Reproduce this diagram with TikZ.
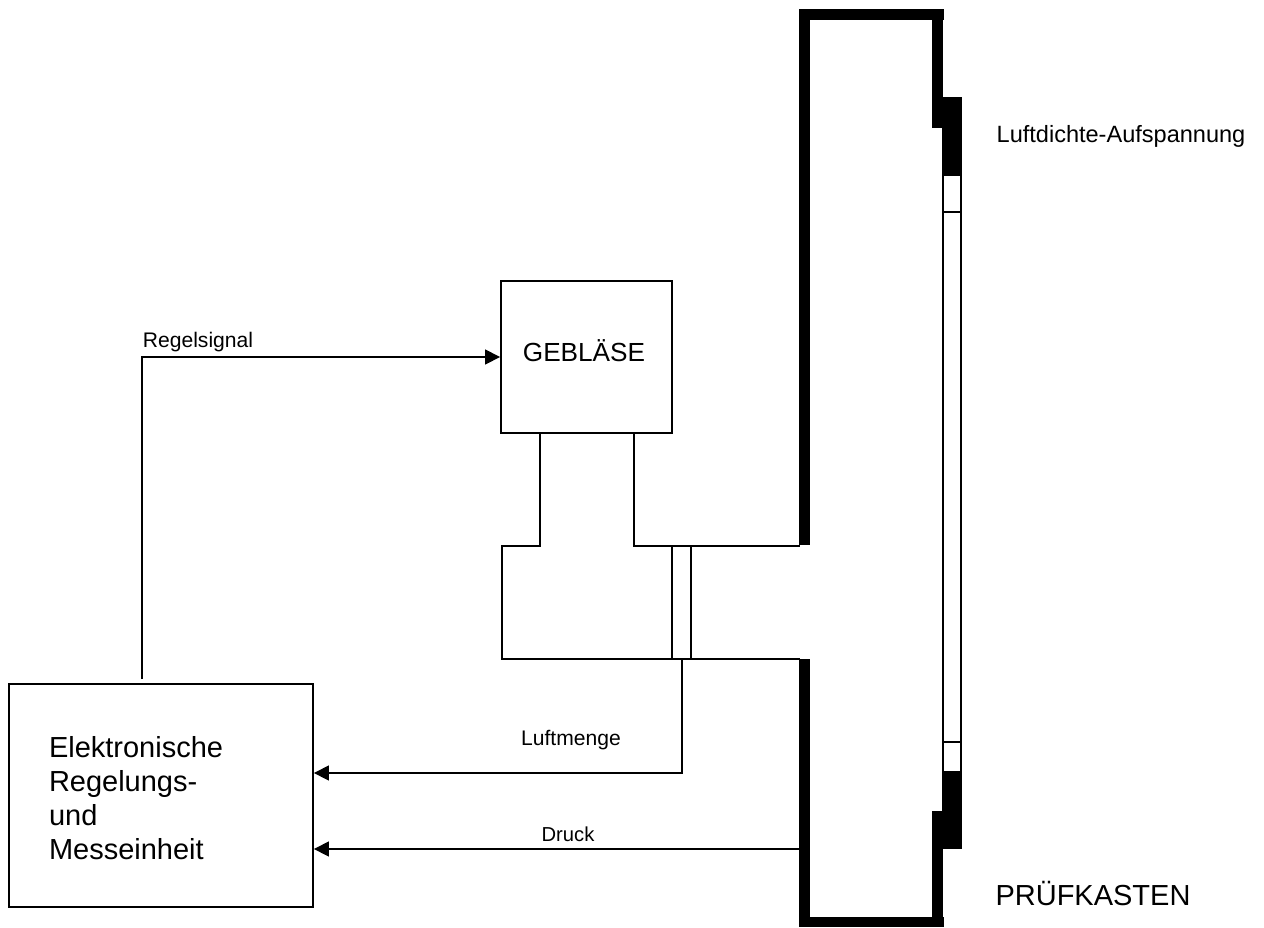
\documentclass[tikz,border=0pt]{standalone}
\usepackage{fontspec}
\setmainfont{Liberation Sans}
\usetikzlibrary{arrows.meta}
\tikzset{
  thinline/.style={line width=1.1pt},
  signal/.style={line width=0.9pt,-{Triangle[length=0.3cm,width=0.3cm]}},
  blockbox/.style={draw,thinline,inner sep=0pt},
  smalllabel/.style={font=\fontsize{12}{14}\selectfont},
  largelabel/.style={font=\fontsize{16.5}{19.4}\selectfont}
}
\begin{document}
\begin{tikzpicture}[x=0.02cm,y=-0.02cm]
    \useasboundingbox (0,0) rectangle (1264,927);

    % Prüfkasten
    \fill (799,9) rectangle (810,545);
    \fill (799,659) rectangle (810,927);
    \fill (799,9) rectangle (944,20);
    \fill (799,917) rectangle (944,927);
    \fill (932,9) rectangle (943,128);
    \fill (932,811) rectangle (943,927);

    % Aufspannung
    \fill (932,97) rectangle (962,128);
    \fill (942,97) rectangle (962,175);
    \fill (942,772) rectangle (962,849);
    \fill (932,811) rectangle (962,849);

    % Fenster
    \draw[thinline] (943,175) rectangle (961,772);
    \draw[thinline] (943,212) -- (961,212);
    \draw[thinline] (943,742) -- (961,742);

    % Blöcke
    \node[blockbox,minimum width=3.42cm,minimum height=3.04cm] (geblaese) at (586.5,357) {};
    \node[blockbox,minimum width=6.08cm,minimum height=4.46cm] (regler) at (161,795.5) {};
    \node[font=\fontsize{14.9}{18}\selectfont] (geblaesetext) at (584,350.5) {GEBL\"ASE};
    \node[largelabel,align=left,text width=4.48cm] (reglertext) at (161,798)
        {Elektronische\\Regelungs-\\und\\Messeinheit};

    % Luftkanal
    \coordinate (ductA) at (540,433);
    \coordinate (ductB) at (634,433);
    \coordinate (ductC) at (800,546);
    \coordinate (ductD) at (800,659);
    \draw[thinline] (ductA) -- (540,546) -- (502,546) -- (502,659) -- (ductD);
    \draw[thinline] (ductB) -- (634,546) -- (ductC);

    % Messblende
    \coordinate (blendeA) at (672,546);
    \coordinate (blendeB) at (691,659);
    \draw[thinline] (blendeA) rectangle (blendeB);

    % Signale
    \coordinate (signalStart) at (142,679);
    \coordinate (luftmengeStart) at (682,659);
    \coordinate (luftmengeKnick) at (682,773);
    \coordinate (druckStart) at (799,849);
    \draw[signal] (signalStart) |- (geblaese.west);
    \draw[signal] (luftmengeStart) -- (luftmengeKnick) -- (regler.east |- luftmengeKnick);
    \draw[signal] (druckStart) -- (regler.east |- druckStart);

    % Beschriftung
    \node[smalllabel] (regelsignal) at (198,342) {Regelsignal};
    \node[smalllabel] (luftmenge) at (571,740) {Luftmenge};
    \node[font=\fontsize{11.5}{14}\selectfont] (druck) at (568,834.5) {Druck};
    \node[font=\fontsize{13.4}{16}\selectfont] (aufspannung) at (1121,136) {Luftdichte-Aufspannung};
    \node[largelabel] (pruefkasten) at (1093,893) {PR\"UFKASTEN};
\end{tikzpicture}
\end{document}
